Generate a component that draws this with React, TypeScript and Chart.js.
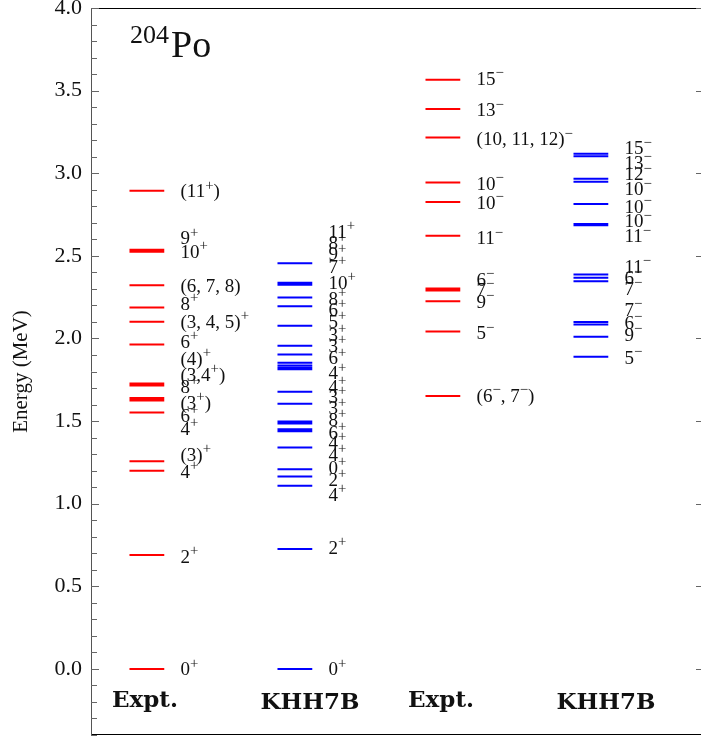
import React, { useEffect, useRef } from 'react';
import { Chart, registerables } from 'chart.js';
Chart.register(...registerables);

// ---------- data (MeV) ----------
const columnTitles = ['Expt.', 'KHH7B', 'Expt.', 'KHH7B'];

const exptPosE = [2.894, 2.537, 2.525, 2.322, 2.187, 2.101, 1.964, 1.728, 1.716, 1.640, 1.632, 1.624, 1.552, 1.257, 1.200, 0.689, 0.0];
const exptPosLabels = ['(11^{+})', '9^{+}', '10^{+}', '(6, 7, 8)', '8^{+}', '(3, 4, 5)^{+}', '6^{+}', '(4)^{+}', '(3,4^{+})', '8^{+}', '(3^{+})', '6^{+}', '4^{+}', '(3)^{+}', '4^{+}', '2^{+}', '0^{+}'];
const exptPosLabelE = [2.894, 2.610, 2.526, 2.320, 2.211, 2.103, 1.982, 1.879, 1.782, 1.710, 1.613, 1.535, 1.456, 1.299, 1.196, 0.683, 0.0];

const khhPosE = [2.455, 2.337, 2.325, 2.248, 2.195, 2.077, 1.956, 1.903, 1.853, 1.837, 1.823, 1.813, 1.678, 1.605, 1.497, 1.485, 1.450, 1.438, 1.340, 1.208, 1.164, 1.108, 0.725, 0.0];
const khhPosLabels = ['11^{+}', '8^{+}', '9^{+}', '7^{+}', '10^{+}', '8^{+}', '6^{+}', '5^{+}', '3^{+}', '3^{+}', '6^{+}', '4^{+}', '4^{+}', '3^{+}', '3^{+}', '8^{+}', '6^{+}', '4^{+}', '4^{+}', '0^{+}', '2^{+}', '4^{+}', '2^{+}', '0^{+}'];
const khhPosLabelE = [2.648, 2.578, 2.512, 2.437, 2.340, 2.242, 2.175, 2.105, 2.024, 1.958, 1.883, 1.793, 1.712, 1.651, 1.581, 1.511, 1.430, 1.373, 1.299, 1.219, 1.148, 1.057, 0.737, 0.0];

const exptNegE = [3.565, 3.388, 3.216, 2.944, 2.826, 2.622, 2.302, 2.290, 2.225, 2.042, 1.652];
const exptNegLabels = ['15^{−}', '13^{−}', '(10, 11, 12)^{−}', '10^{−}', '10^{−}', '11^{−}', '6^{−}', '7^{−}', '9^{−}', '5^{−}', '(6^{−}, 7^{−})'];
const exptNegLabelE = [3.575, 3.384, 3.208, 2.937, 2.822, 2.610, 2.356, 2.296, 2.225, 2.034, 1.656];

const khhNegE = [3.118, 3.102, 2.967, 2.949, 2.814, 2.693, 2.685, 2.387, 2.367, 2.346, 2.099, 2.085, 2.010, 1.889];
const khhNegLabels = ['15^{−}', '13^{−}', '12^{−}', '10^{−}', '10^{−}', '10^{−}', '11^{−}', '11^{−}', '6^{−}', '7^{−}', '7^{−}', '6^{−}', '9^{−}', '5^{−}'];
const khhNegLabelE = [3.154, 3.065, 2.997, 2.906, 2.799, 2.713, 2.622, 2.437, 2.369, 2.302, 2.175, 2.097, 2.024, 1.885];

const yTicks = [0.0, 0.5, 1.0, 1.5, 2.0, 2.5, 3.0, 3.5, 4.0];

// ---------- style ----------
const SERIF = '"Liberation Serif", "Times New Roman", serif';
const BAR_START = 0.26;
const BAR_END = 0.495;
const LABEL_X = 0.605;
const TITLE_X = [0.365, 1.48, 2.365, 3.48];
const TITLE_Y = [-0.23, -0.245, -0.23, -0.245];
const RED = '#ff0000';
const BLUE = '#0000ff';

const columns = [
  { E: exptPosE, labels: exptPosLabels, labelE: exptPosLabelE, color: RED },
  { E: khhPosE, labels: khhPosLabels, labelE: khhPosLabelE, color: BLUE },
  { E: exptNegE, labels: exptNegLabels, labelE: exptNegLabelE, color: RED },
  { E: khhNegE, labels: khhNegLabels, labelE: khhNegLabelE, color: BLUE },
];

function levelPoints(E: number[], col: number) {
  const pts: any[] = [];
  E.forEach((e) => {
    pts.push({ x: col + BAR_START, y: e });
    pts.push({ x: col + BAR_END, y: e });
    pts.push({ x: col + BAR_END + 0.001, y: null });
  });
  return pts;
}

function drawRich(ctx: CanvasRenderingContext2D, text: string, x: number, y: number, fs: number) {
  const parts = text.split(/(\^\{[^}]*\})/).filter((p) => p.length > 0);
  let cx = x;
  for (const p of parts) {
    if (p.startsWith('^{')) {
      const t = p.slice(2, -1);
      ctx.font = `${fs * 0.78}px ${SERIF}`;
      ctx.fillText(t, cx, y - fs * 0.4);
      cx += ctx.measureText(t).width;
    } else {
      ctx.font = `${fs}px ${SERIF}`;
      ctx.fillText(p, cx, y);
      cx += ctx.measureText(p).width;
    }
  }
}

const decorPlugin = {
  id: 'decor',
  afterDraw(chart: any) {
    const { ctx, chartArea, scales } = chart;
    const xs = scales.x;
    const ys = scales.y;
    const { left, right, top, bottom } = chartArea;
    ctx.save();

    // frame
    ctx.lineWidth = 1;
    ctx.strokeStyle = '#000';
    ctx.beginPath();
    ctx.moveTo(left, top + 0.5);
    ctx.lineTo(right, top + 0.5);
    ctx.moveTo(left, bottom - 0.5);
    ctx.lineTo(right, bottom - 0.5);
    ctx.moveTo(right - 0.5, top);
    ctx.lineTo(right - 0.5, bottom);
    ctx.stroke();
    ctx.strokeStyle = '#555';
    ctx.beginPath();
    ctx.moveTo(left + 0.5, top);
    ctx.lineTo(left + 0.5, bottom);
    ctx.stroke();

    // ticks (inside)
    ctx.strokeStyle = '#666';
    ctx.beginPath();
    for (let i = -4; i <= 40; i++) {
      const py = Math.round(ys.getPixelForValue(i / 10)) + 0.5;
      const major = i % 5 === 0;
      ctx.moveTo(left, py);
      ctx.lineTo(left + (major ? 8 : 6), py);
      if (major) {
        ctx.moveTo(right, py);
        ctx.lineTo(right - 7, py);
      }
    }
    ctx.stroke();

    // level labels
    ctx.fillStyle = '#111';
    ctx.textBaseline = 'alphabetic';
    ctx.textAlign = 'left';
    const fs = 19;
    columns.forEach((c, ci) => {
      const px = xs.getPixelForValue(ci + LABEL_X);
      c.labels.forEach((lab, li) => {
        const py = ys.getPixelForValue(c.labelE[li]) + fs * 0.34;
        drawRich(ctx, lab, px, py, fs);
      });
    });

    // column titles
    ctx.font = `bold 23px "DejaVu Serif", serif`;
    ctx.textAlign = 'center';
    columnTitles.forEach((t, i) => {
      ctx.fillText(t, xs.getPixelForValue(TITLE_X[i]), ys.getPixelForValue(TITLE_Y[i]));
    });

    // nucleus title
    ctx.textAlign = 'left';
    ctx.font = `26px ${SERIF}`;
    const tx = left + 39;
    ctx.fillText('204', tx, top + 35);
    const w = ctx.measureText('204').width;
    ctx.font = `38px ${SERIF}`;
    ctx.fillText('Po', tx + w + 2, top + 49);

    ctx.restore();
  },
};

export default function App() {
  const ref = useRef<HTMLCanvasElement | null>(null);
  useEffect(() => {
    if (!ref.current) return;
    const chart = new Chart(ref.current, {
      type: 'scatter',
      data: {
        datasets: columns.map((c, ci) => ({
          label: columnTitles[ci],
          data: levelPoints(c.E, ci),
          showLine: true,
          spanGaps: false,
          borderColor: c.color,
          backgroundColor: c.color,
          borderWidth: 2,
          pointRadius: 0,
          pointHoverRadius: 0,
          tension: 0,
        })),
      },
      options: {
        responsive: false,
        animation: false,
        devicePixelRatio: 1,
        layout: { padding: { left: 0, right: 3, top: 8, bottom: 4 } },
        plugins: { legend: { display: false }, tooltip: { enabled: false } },
        events: [],
        scales: {
          x: { type: 'linear', min: 0, max: 4.135, display: false },
          y: {
            type: 'linear',
            position: 'left',
            min: -0.4,
            max: 4.0,
            afterBuildTicks: (s: any) => {
              s.ticks = yTicks.map((v) => ({ value: v }));
            },
            afterFit: (s: any) => {
              s.width = 91;
              s.paddingTop = 0;
              s.paddingBottom = 0;
            },
            grid: { display: false, drawTicks: false },
            border: { display: false },
            ticks: {
              callback: (v: any) => Number(v).toFixed(1),
              font: { family: SERIF, size: 22 },
              color: '#111',
              padding: 9,
              autoSkip: false,
            },
            title: {
              display: true,
              text: 'Energy (MeV)',
              font: { family: SERIF, size: 21 },
              color: '#111',
              padding: { top: 9, bottom: 0 },
            },
          },
        },
      },
      plugins: [decorPlugin],
    } as any);
    return () => chart.destroy();
  }, []);
  return (
    <div style={{ position: 'absolute', left: 0, top: 0, width: 701, height: 739, overflow: 'hidden', background: '#fff' }}>
      <canvas ref={ref} width={706} height={739} style={{ width: 706, height: 739, display: 'block' }} />
    </div>
  );
}
